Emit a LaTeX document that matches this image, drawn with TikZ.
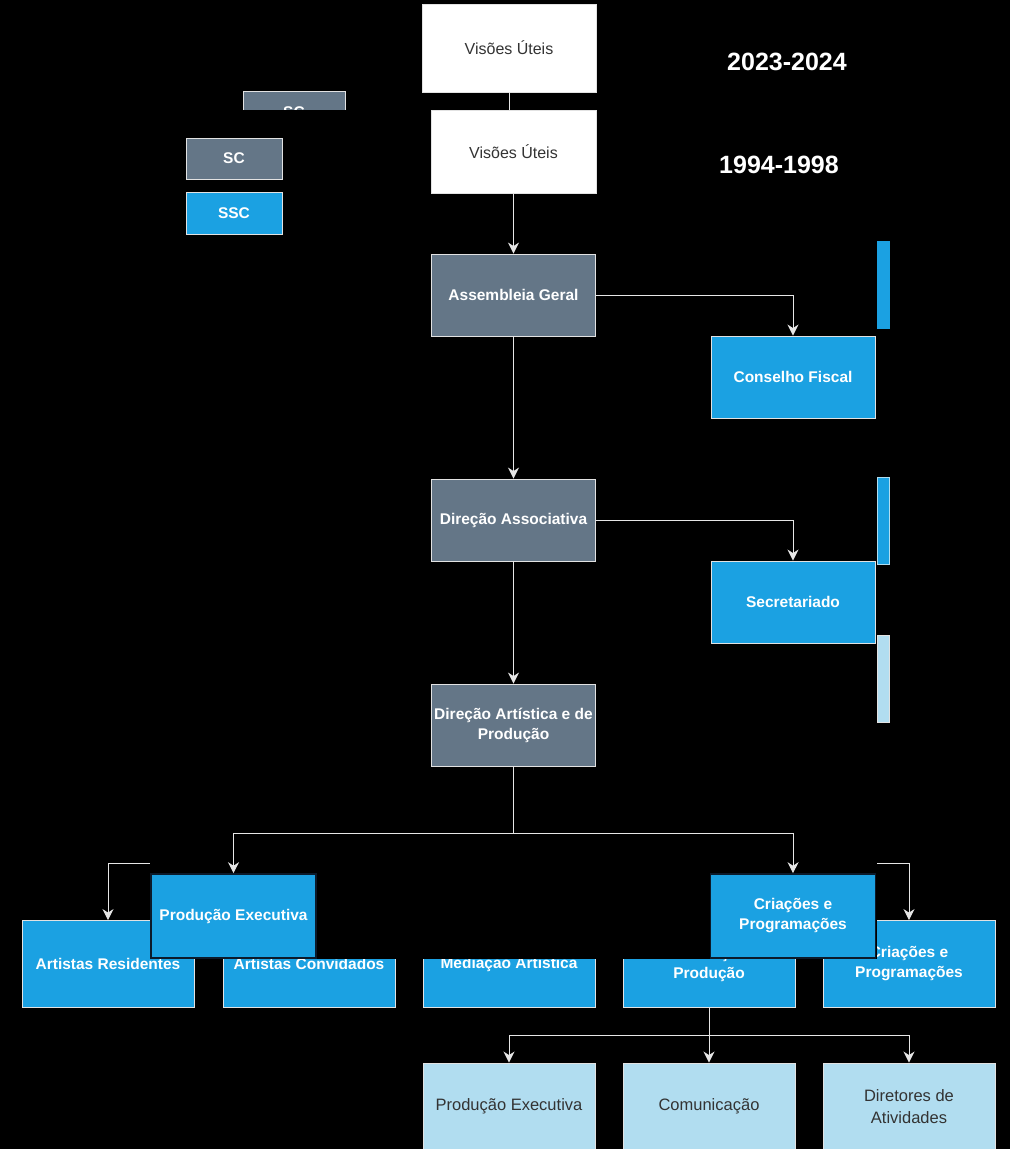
\documentclass[tikz,border=0pt]{standalone}
\usepackage{fontspec}
\setmainfont{Liberation Sans}
\usetikzlibrary{arrows.meta}

\definecolor{greyFill}{HTML}{647687}
\definecolor{blueFill}{HTML}{1BA1E2}
\definecolor{paleFill}{HTML}{B1DDF0}
\definecolor{edgeGrey}{HTML}{E2E2E2}
\definecolor{lineGrey}{HTML}{E6E6E6}
\definecolor{darkText}{HTML}{333333}
\definecolor{navyEdge}{HTML}{0C1A2A}

\begin{document}
\begin{tikzpicture}[x=1pt,y=-1pt,
  box/.style={draw=edgeGrey,line width=0.9pt,minimum width=172pt,minimum height=87pt,inner sep=0pt,align=center},
  greybox/.style={box,fill=greyFill,text=white,font=\bfseries\fontsize{15.5}{20}\selectfont},
  bluebox/.style={box,fill=blueFill,text=white,font=\bfseries\fontsize{15.5}{20}\selectfont},
  palebox/.style={box,fill=paleFill,text=darkText,font=\fontsize{16.5}{22}\selectfont},
  whitebox/.style={box,fill=white,text=darkText,font=\fontsize{16}{20}\selectfont},
  overbox/.style={bluebox,draw=navyEdge,line width=1.6pt,minimum width=165pt,minimum height=84pt},
  bar/.style={draw=#1,line width=0.8pt,minimum width=12pt,minimum height=87pt,inner sep=0pt},
  conn/.style={draw=lineGrey,line width=1pt},
  arr/.style={conn,-{Stealth[length=11pt,width=11pt,inset=3.5pt]}},
  year/.style={text=white,font=\bfseries\fontsize{25}{30}\selectfont}
]
\useasboundingbox (0,0) rectangle (1010,1149);
\fill[black] (0,0) rectangle (1010,1149);

% legend
\begin{scope}
\clip (242,89) rectangle (347,109.5);
\node[greybox,minimum width=102pt,minimum height=42pt] (scold) at (294,112) {SC};
\end{scope}
\node[greybox,minimum width=96pt,minimum height=41pt] (sc) at (234,158.5) {SC};
\node[bluebox,minimum width=96pt,minimum height=42pt] (ssc) at (234,213) {SSC};

\node[year] (yr1) at (787,62) {2023-2024};
\node[year] (yr2) at (779,165) {1994-1998};

% top of the chart
\node[whitebox,minimum width=174pt,minimum height=88pt] (vu1) at (509,48) {Visões Úteis};
\node[whitebox,minimum width=165pt,minimum height=83pt] (vu2) at (513.5,151.5) {Visões Úteis};
\node[greybox,minimum width=164pt,minimum height=82pt] (ag) at (513.5,295) {Assembleia Geral};
\node[bluebox,minimum width=164pt,minimum height=82pt] (cf) at (793,377) {Conselho Fiscal};
\node[greybox,minimum width=164pt,minimum height=82pt] (da) at (513.5,520) {Direção Associativa};
\node[bluebox,minimum width=164pt,minimum height=82pt] (sec) at (793,602) {Secretariado};
\node[greybox,minimum width=164pt,minimum height=82pt] (dap) at (513.5,725) {Direção Artística e de\\Produção};

\node[bar=blueFill,fill=blueFill] (bar1) at (883,284.5) {};
\node[bar=paleFill,fill=blueFill] (bar2) at (883,520.5) {};
\node[bar=edgeGrey,fill=paleFill] (bar3) at (883,678.5) {};

\draw[conn] (vu1.south) -- (vu1.south |- vu2.north);
\draw[arr] (vu2.south) -- (ag.north);
\draw[arr] (ag.east) -| (cf.north);
\draw[arr] (ag.south) -- (da.north);
\draw[arr] (da.east) -| (sec.north);
\draw[arr] (da.south) -- (dap.north);

% bottom rows
\node[bluebox] (ar) at (108,964) {Artistas Residentes};
\node[bluebox] (ac) at (309,964) {Artistas Convidados};
\node[bluebox] (ma) at (509,964) {Mediação Artística};
\node[bluebox] (cp) at (709,964) {Coordenação de\\Produção};
\node[bluebox] (cr) at (909,964) {Criações e\\Programações};

\coordinate (lstub) at (150,863);
\coordinate (rstub) at (877,863);
\draw[arr] (lstub) -| (ar.north);
\draw[arr] (rstub) -| (cr.north);

\fill[black] (150,842) rectangle (877,958.5);

\coordinate (split) at (513.5,833);
\draw[conn] (dap.south) -- (split);
\node[overbox] (pe) at (233.5,916) {Produção Executiva};
\node[overbox] (co) at (793,916) {Criações e\\Programações};
\draw[arr] (split) -| (pe.north);
\draw[arr] (split) -| (co.north);

\node[palebox] (pe2) at (509,1106.5) {Produção Executiva};
\node[palebox] (com) at (709,1106.5) {Comunicação};
\node[palebox] (dir) at (909,1106.5) {Diretores de\\Atividades};

\coordinate (split2) at (709,1035);
\draw[conn] (cp.south) -- (split2);
\draw[arr] (split2) -| (pe2.north);
\draw[arr] (split2) -- (com.north);
\draw[arr] (split2) -| (dir.north);
\end{tikzpicture}
\end{document}
